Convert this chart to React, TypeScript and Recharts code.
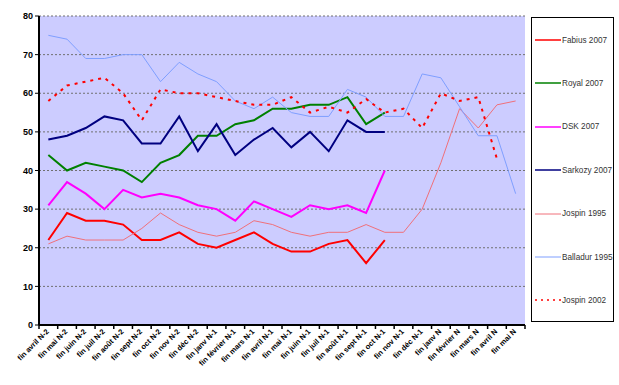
import { LineChart, Line, XAxis, YAxis, CartesianGrid } from 'recharts';

const months = [
  'fin avril N-2', 'fin mai N-2', 'fin juin N-2', 'fin juil N-2', 'fin août N-2', 'fin sept N-2',
  'fin oct N-2', 'fin nov N-2', 'fin déc N-2', 'fin janv N-1', 'fin février N-1', 'fin mars N-1',
  'fin avril N-1', 'fin mai N-1', 'fin juin N-1', 'fin juil N-1', 'fin août N-1', 'fin sept N-1',
  'fin oct N-1', 'fin nov N-1', 'fin déc N-1', 'fin janv N', 'fin février N', 'fin mars N',
  'fin avril N', 'fin mai N',
];

const fabius2007 = [22, 29, 27, 27, 26, 22, 22, 24, 21, 20, 22, 24, 21, 19, 19, 21, 22, 16, 22];
const royal2007 = [44, 40, 42, 41, 40, 37, 42, 44, 49, 49, 52, 53, 56, 56, 57, 57, 59, 52, 55];
const dsk2007 = [31, 37, 34, 30, 35, 33, 34, 33, 31, 30, 27, 32, 30, 28, 31, 30, 31, 29, 40];
const sarkozy2007 = [48, 49, 51, 54, 53, 47, 47, 54, 45, 52, 44, 48, 51, 46, 50, 45, 53, 50, 50];
const jospin1995 = [21, 23, 22, 22, 22, 25, 29, 26, 24, 23, 24, 27, 26, 24, 23, 24, 24, 26, 24, 24, 30, 42, 56, 51, 57, 58];
const balladur1995 = [75, 74, 69, 69, 70, 70, 63, 68, 65, 63, 58, 56, 59, 55, 54, 54, 61, 59, 54, 54, 65, 64, 56.5, 49, 49, 34];
const jospin2002 = [58, 62, 63, 64, 60, 53, 61, 60, 60, 59, 58, 57, 57, 59, 55, 56.5, 55, 58.5, 55, 56, 51, 60, 58, 59, 43];

const yTicks = [0, 10, 20, 30, 40, 50, 60, 70, 80];

const series = [
  { key: 'fabius', name: 'Fabius 2007', values: fabius2007, color: '#ff0000', width: 2, dash: undefined },
  { key: 'royal', name: 'Royal 2007', values: royal2007, color: '#008000', width: 2, dash: undefined },
  { key: 'dsk', name: 'DSK 2007', values: dsk2007, color: '#ff00ff', width: 2, dash: undefined },
  { key: 'sarkozy', name: 'Sarkozy 2007', values: sarkozy2007, color: '#000080', width: 2, dash: undefined },
  { key: 'jospin95', name: 'Jospin 1995', values: jospin1995, color: '#f0707a', width: 1, dash: undefined },
  { key: 'balladur', name: 'Balladur 1995', values: balladur1995, color: '#7f9fff', width: 1, dash: undefined },
  { key: 'jospin02', name: 'Jospin 2002', values: jospin2002, color: '#ff0000', width: 2, dash: '3 5' },
];

const data = months.map((label, i) => {
  const row: Record<string, string | number | null> = { label };
  series.forEach((s) => {
    row[s.key] = i < s.values.length ? s.values[i] : null;
  });
  return row;
});

// label centred on the month, tick marks on the band edges (Excel style)
const MonthTick = ({ x, y, payload, index }: any) => {
  const half = payload.offset || 0;
  return (
    <g>
      {index === 0 && <line x1={x - half} x2={x - half} y1={y} y2={y + 4} stroke="#000" strokeWidth={1.5} />}
      <line x1={x + half} x2={x + half} y1={y} y2={y + 4} stroke="#000" strokeWidth={1.5} />
      <g transform={`translate(${x + 1},${y + 7})`}>
        <text textAnchor="end" transform="rotate(-45)" fontSize={7.5} fontWeight="bold" fill="#000">
          {payload.value}
        </text>
      </g>
    </g>
  );
};

function LegendBox() {
  return (
    <div
      style={{
        position: 'absolute', left: 531, top: 17, width: 83, height: 305,
        border: '1px solid #000', background: '#fff', boxSizing: 'border-box',
      }}
    >
      {series.map((s, i) => (
        <div
          key={s.key}
          style={{
            position: 'absolute', left: 3, top: 17 + i * 43.4, display: 'flex', alignItems: 'center',
            fontSize: 8.2, color: '#333', whiteSpace: 'nowrap',
          }}
        >
          <svg width={26} height={10} style={{ marginRight: 1 }}>
            <line x1={0} x2={26} y1={5} y2={5} stroke={s.color} strokeWidth={s.width === 2 ? 1.5 : 1} strokeDasharray={s.dash ? '2 4' : undefined} />
          </svg>
          {s.name}
        </div>
      ))}
    </div>
  );
}

export default function App() {
  return (
    <div style={{ position: 'absolute', left: 0, top: 0, width: 619, height: 385, background: '#fff', fontFamily: 'Liberation Sans, Arial, sans-serif' }}>
      <LineChart width={619} height={385} data={data} margin={{ top: 16, right: 94, bottom: 0, left: 0 }}>
        <CartesianGrid fill="#ccccff" vertical={false} stroke="#707070" strokeDasharray="2 2" />
        <XAxis dataKey="label" scale="band" interval={0} height={60} tickLine={false} tickSize={0} tickMargin={0}
          axisLine={{ stroke: '#000', strokeWidth: 2 }} tick={<MonthTick />} />
        <XAxis xAxisId="top" orientation="top" type="number" domain={[0, 1]} height={0} tick={false} tickLine={false}
          axisLine={{ stroke: '#000', strokeWidth: 2 }} />
        <YAxis domain={[0, 80]} ticks={yTicks} width={39} tickSize={4} interval={0}
          axisLine={{ stroke: '#000', strokeWidth: 2 }} tickLine={{ stroke: '#000' }}
          tick={{ fontSize: 9, fontWeight: 'bold', fill: '#000' }} />
        <YAxis yAxisId="right" orientation="right" domain={[0, 80]} width={0} tick={false} tickLine={false}
          axisLine={{ stroke: '#000', strokeWidth: 2 }} />
        {series.map((s) => (
          <Line key={s.key} dataKey={s.key} name={s.name} stroke={s.color} strokeWidth={s.width}
            strokeDasharray={s.dash} dot={false} activeDot={false} isAnimationActive={false} type="linear" />
        ))}
      </LineChart>
      <LegendBox />
    </div>
  );
}
